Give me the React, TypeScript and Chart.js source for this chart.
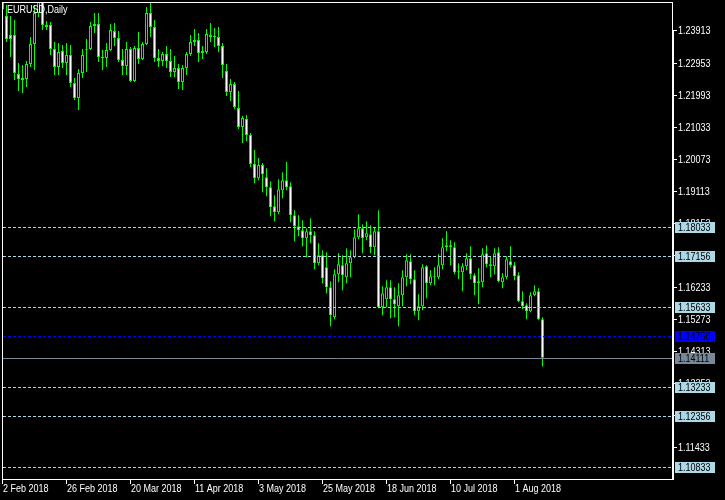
import { useEffect, useRef } from "react";
import { Chart, registerables } from "chart.js";

Chart.register(...registerables);

const symbolTitle = "EURUSD,Daily";

// Daily bars from 2 Feb 2018 to 10 Aug 2018 (index 0 .. 135)
const opens = [
  1.2513, 1.2435, 1.2378, 1.2378, 1.2261, 1.2249, 1.2246, 1.2291, 1.2351, 1.2444,
  1.2505, 1.2408, 1.2408, 1.2336, 1.2282, 1.2330, 1.2294, 1.2318, 1.2234, 1.2189,
  1.2264, 1.2333, 1.2336, 1.2405, 1.2411, 1.2312, 1.2309, 1.2333, 1.2390, 1.2369,
  1.2303, 1.2285, 1.2336, 1.2240, 1.2339, 1.2306, 1.2351, 1.2444, 1.2402, 1.2309,
  1.2300, 1.2321, 1.2300, 1.2267, 1.2279, 1.2237, 1.2279, 1.2321, 1.2357, 1.2363,
  1.2324, 1.2327, 1.2378, 1.2372, 1.2372, 1.2345, 1.2270, 1.2207, 1.2231, 1.2159,
  1.2102, 1.2126, 1.2078, 1.1991, 1.1949, 1.1988, 1.1952, 1.1922, 1.1865, 1.1847,
  1.1913, 1.1943, 1.1925, 1.1838, 1.1805, 1.1793, 1.1769, 1.1790, 1.1778, 1.1694,
  1.1718, 1.1682, 1.1622, 1.1532, 1.1661, 1.1688, 1.1652, 1.1694, 1.1712, 1.1772,
  1.1799, 1.1772, 1.1781, 1.1742, 1.1790, 1.1562, 1.1586, 1.1622, 1.1586, 1.1565,
  1.1598, 1.1652, 1.1700, 1.1646, 1.1550, 1.1565, 1.1685, 1.1634, 1.1655, 1.1652,
  1.1688, 1.1742, 1.1748, 1.1742, 1.1670, 1.1667, 1.1685, 1.1709, 1.1658, 1.1640,
  1.1637, 1.1724, 1.1691, 1.1685, 1.1727, 1.1637, 1.1652, 1.1700, 1.1688, 1.1658,
  1.1580, 1.1568, 1.1550, 1.1598, 1.1610, 1.1526,
];
const highs = [
  1.2522, 1.2468, 1.2435, 1.2423, 1.2294, 1.2288, 1.2300, 1.2372, 1.2468, 1.2507,
  1.2555, 1.2420, 1.2417, 1.2357, 1.2354, 1.2348, 1.2354, 1.2348, 1.2249, 1.2276,
  1.2336, 1.2366, 1.2417, 1.2444, 1.2444, 1.2333, 1.2354, 1.2411, 1.2414, 1.2390,
  1.2336, 1.2357, 1.2342, 1.2345, 1.2387, 1.2357, 1.2462, 1.2474, 1.2423, 1.2336,
  1.2327, 1.2345, 1.2336, 1.2315, 1.2291, 1.2288, 1.2327, 1.2378, 1.2396, 1.2384,
  1.2345, 1.2396, 1.2414, 1.2399, 1.2402, 1.2354, 1.2291, 1.2246, 1.2237, 1.2210,
  1.2135, 1.2138, 1.2084, 1.2033, 1.2009, 1.1994, 1.1979, 1.1940, 1.1898, 1.1946,
  1.1967, 1.1997, 1.1937, 1.1853, 1.1838, 1.1823, 1.1799, 1.1829, 1.1790, 1.1754,
  1.1733, 1.1727, 1.1640, 1.1676, 1.1724, 1.1718, 1.1739, 1.1733, 1.1796, 1.1841,
  1.1811, 1.1820, 1.1808, 1.1802, 1.1853, 1.1625, 1.1643, 1.1643, 1.1622, 1.1634,
  1.1673, 1.1721, 1.1721, 1.1673, 1.1601, 1.1691, 1.1688, 1.1673, 1.1682, 1.1721,
  1.1769, 1.1790, 1.1763, 1.1757, 1.1694, 1.1694, 1.1724, 1.1745, 1.1664, 1.1679,
  1.1739, 1.1748, 1.1715, 1.1739, 1.1742, 1.1664, 1.1715, 1.1745, 1.1697, 1.1667,
  1.1610, 1.1574, 1.1607, 1.1628, 1.1619, 1.1532,
];
const lows = [
  1.2420, 1.2357, 1.2312, 1.2243, 1.2210, 1.2204, 1.2222, 1.2282, 1.2273, 1.2432,
  1.2393, 1.2393, 1.2318, 1.2258, 1.2258, 1.2279, 1.2258, 1.2222, 1.2183, 1.2153,
  1.2249, 1.2267, 1.2333, 1.2384, 1.2297, 1.2273, 1.2282, 1.2330, 1.2345, 1.2297,
  1.2258, 1.2258, 1.2237, 1.2237, 1.2291, 1.2303, 1.2348, 1.2372, 1.2297, 1.2282,
  1.2285, 1.2279, 1.2252, 1.2252, 1.2216, 1.2213, 1.2258, 1.2315, 1.2345, 1.2297,
  1.2306, 1.2321, 1.2357, 1.2342, 1.2327, 1.2249, 1.2195, 1.2180, 1.2156, 1.2096,
  1.2054, 1.2060, 1.1982, 1.1934, 1.1943, 1.1907, 1.1895, 1.1835, 1.1820, 1.1841,
  1.1889, 1.1913, 1.1817, 1.1760, 1.1775, 1.1745, 1.1712, 1.1754, 1.1676, 1.1688,
  1.1634, 1.1604, 1.1505, 1.1526, 1.1637, 1.1613, 1.1634, 1.1652, 1.1709, 1.1766,
  1.1724, 1.1763, 1.1724, 1.1718, 1.1559, 1.1538, 1.1562, 1.1529, 1.1532, 1.1505,
  1.1565, 1.1625, 1.1631, 1.1538, 1.1523, 1.1553, 1.1589, 1.1628, 1.1628, 1.1646,
  1.1676, 1.1730, 1.1688, 1.1661, 1.1646, 1.1610, 1.1673, 1.1646, 1.1598, 1.1571,
  1.1622, 1.1682, 1.1652, 1.1661, 1.1637, 1.1619, 1.1646, 1.1682, 1.1643, 1.1577,
  1.1556, 1.1526, 1.1547, 1.1595, 1.1523, 1.1385,
];
const closes = [
  1.2456, 1.2366, 1.2366, 1.2264, 1.2246, 1.2243, 1.2291, 1.2351, 1.2444, 1.2504,
  1.2408, 1.2402, 1.2336, 1.2282, 1.2327, 1.2294, 1.2318, 1.2234, 1.2189, 1.2264,
  1.2318, 1.2332, 1.2405, 1.2411, 1.2312, 1.2309, 1.2333, 1.2393, 1.2369, 1.2303,
  1.2285, 1.2336, 1.2240, 1.2339, 1.2306, 1.2351, 1.2444, 1.2402, 1.2309, 1.2300,
  1.2321, 1.2300, 1.2267, 1.2279, 1.2237, 1.2279, 1.2321, 1.2357, 1.2363, 1.2324,
  1.2330, 1.2381, 1.2372, 1.2375, 1.2345, 1.2288, 1.2207, 1.2231, 1.2162, 1.2102,
  1.2129, 1.2078, 1.1991, 1.1949, 1.1988, 1.1961, 1.1922, 1.1862, 1.1847, 1.1916,
  1.1943, 1.1922, 1.1838, 1.1805, 1.1793, 1.1769, 1.1790, 1.1778, 1.1694, 1.1718,
  1.1649, 1.1622, 1.1538, 1.1661, 1.1691, 1.1658, 1.1694, 1.1712, 1.1772, 1.1799,
  1.1769, 1.1784, 1.1742, 1.1790, 1.1562, 1.1604, 1.1622, 1.1586, 1.1571, 1.1598,
  1.1652, 1.1703, 1.1646, 1.1550, 1.1565, 1.1682, 1.1634, 1.1655, 1.1652, 1.1688,
  1.1742, 1.1748, 1.1742, 1.1667, 1.1667, 1.1685, 1.1709, 1.1661, 1.1634, 1.1634,
  1.1721, 1.1691, 1.1685, 1.1724, 1.1640, 1.1652, 1.1706, 1.1688, 1.1655, 1.1580,
  1.1565, 1.1550, 1.1598, 1.1610, 1.1526, 1.14111,
];

const dateTickIndex = [0, 16, 32, 48, 64, 80, 96, 112, 128];
const dateTickLabels = [
  "2 Feb 2018", "26 Feb 2018", "20 Mar 2018", "11 Apr 2018", "3 May 2018",
  "25 May 2018", "18 Jun 2018", "10 Jul 2018", "1 Aug 2018",
];

const priceTicks = [
  1.23913, 1.22953, 1.21993, 1.21033, 1.20073, 1.19113, 1.18153,
  1.17193, 1.16233, 1.15273, 1.14313, 1.13353, 1.12393, 1.11433,
];
const levelPrices = [1.18033, 1.17156, 1.15633, 1.13233, 1.12356, 1.10833];
const levelLabels = ["1.18033", "1.17156", "1.15633", "1.13233", "1.12356", "1.10833"];
const blueLevel = 1.14756;
const blueLabel = "1.14756";
const bidPrice = 1.14111;
const bidLabel = "1.14111";

const Y_MAX = 1.247668;
const Y_MIN = 1.104768;
const X_MIN = -0.125;
const X_MAX = 167.375;

const GREEN = "#00ff00";
const LIGHTBLUE = "#add8e6";
const FONT = "10px 'Liberation Sans', Arial, sans-serif";

function txt(ctx: CanvasRenderingContext2D, s: string, x: number, y: number, color: string) {
  ctx.save();
  ctx.translate(x, y);
  ctx.scale(0.9, 1);
  ctx.fillStyle = color;
  ctx.font = FONT;
  ctx.textAlign = "left";
  ctx.textBaseline = "alphabetic";
  ctx.fillText(s, 0, 0);
  ctx.restore();
}

const mtPlugin = {
  id: "mtPlugin",
  beforeDraw(chart: any) {
    const ctx = chart.ctx as CanvasRenderingContext2D;
    ctx.save();
    ctx.fillStyle = "#000000";
    ctx.fillRect(0, 0, chart.width, chart.height);
    ctx.restore();
  },
  afterDraw(chart: any) {
    const ctx = chart.ctx as CanvasRenderingContext2D;
    const ys = chart.scales.y;
    const xs = chart.scales.x;
    const area = chart.chartArea;
    const row = (v: number) => Math.round(ys.getPixelForValue(v));
    ctx.save();

    // level lines
    ctx.lineWidth = 1;
    ctx.setLineDash([3, 2]);
    ctx.strokeStyle = LIGHTBLUE;
    levelPrices.forEach((p) => {
      const r = row(p) + 0.5;
      ctx.beginPath();
      ctx.moveTo(area.left + 1, r);
      ctx.lineTo(area.right, r);
      ctx.stroke();
    });
    ctx.strokeStyle = "#0000ff";
    {
      const r = row(blueLevel) + 0.5;
      ctx.beginPath();
      ctx.moveTo(area.left + 1, r);
      ctx.lineTo(area.right, r);
      ctx.stroke();
    }
    ctx.setLineDash([]);
    ctx.strokeStyle = "#778899";
    {
      const r = row(bidPrice) + 0.5;
      ctx.beginPath();
      ctx.moveTo(area.left + 1, r);
      ctx.lineTo(area.right, r);
      ctx.stroke();
    }

    // title
    txt(ctx, symbolTitle, 7, 13, "#ffffff");

    // border
    ctx.strokeStyle = "#ffffff";
    ctx.strokeRect(area.left + 0.5, area.top + 0.5, area.right - area.left, area.bottom - area.top);
    ctx.fillStyle = "#ffffff";
    ctx.fillRect(area.right + 1, row(priceTicks[0]), 1, area.bottom - row(priceTicks[0]) + 1);

    // price ticks
    priceTicks.forEach((p) => {
      const r = row(p);
      ctx.fillStyle = "#ffffff";
      ctx.fillRect(area.right + 1, r, 4, 1);
      txt(ctx, p.toFixed(5), area.right + 6, r + 4, "#ffffff");
    });

    // label boxes
    const box = (p: number, label: string, bg: string, fg: string) => {
      const r = row(p);
      ctx.fillStyle = bg;
      ctx.fillRect(area.right + 3, r - 5, 40, 11);
      txt(ctx, label, area.right + 6, r + 4, fg);
    };
    levelPrices.forEach((p, i) => box(p, levelLabels[i], LIGHTBLUE, "#000000"));
    box(blueLevel, blueLabel, "#0000ff", "#000000");
    box(bidPrice, bidLabel, "#778899", "#000000");

    // date ticks
    dateTickIndex.forEach((idx, i) => {
      const c = Math.floor(xs.getPixelForValue(idx));
      ctx.fillStyle = "#ffffff";
      ctx.fillRect(c, area.bottom + 1, 1, 4);
      txt(ctx, dateTickLabels[i], c + 1, 492, "#ffffff");
    });
    ctx.restore();
  },
};

export default function App() {
  const ref = useRef<HTMLCanvasElement>(null);
  useEffect(() => {
    document.body.style.margin = "0";
    document.body.style.background = "#000000";
    const canvas = ref.current;
    if (!canvas) return;
    const idx = closes.map((_, i) => i);
    const wickData = idx.map((i) => ({ x: i, y: [lows[i], highs[i]] }));
    const bodyData = idx.map((i) => ({
      x: i,
      y: [Math.min(opens[i], closes[i]), Math.max(opens[i], closes[i])],
    }));
    const bodyFill = idx.map((i) => (closes[i] >= opens[i] ? "#000000" : "#ffffff"));
    const chart = new Chart(canvas, {
      type: "bar",
      data: {
        datasets: [
          {
            data: bodyData as any,
            backgroundColor: bodyFill,
            borderColor: GREEN,
            borderWidth: 1,
            borderSkipped: false,
            barThickness: 3,
            grouped: false,
            minBarLength: 1,
            inflateAmount: 0,
            borderRadius: 0,
            clip: 0,
            order: 0,
          } as any,
          {
            data: wickData as any,
            backgroundColor: GREEN,
            borderWidth: 0,
            barThickness: 1,
            grouped: false,
            inflateAmount: 0,
            clip: 0,
            order: 1,
          } as any,
        ],
      },
      options: {
        animation: false,
        responsive: false,
        devicePixelRatio: 1,
        events: [],
        layout: { padding: { left: 2, top: 2, right: 53, bottom: 21 } },
        plugins: { legend: { display: false }, tooltip: { enabled: false } },
        scales: {
          x: { type: "linear", min: X_MIN, max: X_MAX, display: false, offset: false },
          y: { type: "linear", min: Y_MIN, max: Y_MAX, display: false },
        },
      },
      plugins: [mtPlugin],
    });
    return () => chart.destroy();
  }, []);
  return (
    <div style={{ position: "absolute", left: 0, top: 0, width: 725, height: 500, background: "#000" }}>
      <canvas ref={ref} width={725} height={500} style={{ display: "block", width: 725, height: 500 }} />
    </div>
  );
}
